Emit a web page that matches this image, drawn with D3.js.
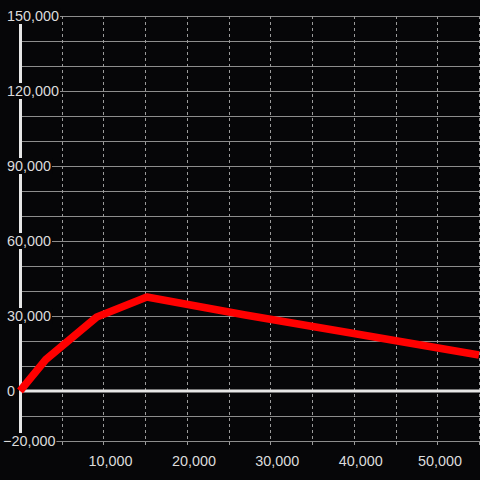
<!DOCTYPE html>
<html>
<head>
<meta charset="utf-8">
<script src="https://cdn.jsdelivr.net/npm/d3@7"></script>
<style>
  html, body { margin: 0; padding: 0; background: #060608; }
  svg { display: block; }
</style>
</head>
<body>
<div id="chart"></div>
<script>
const xValues = [0, 3100, 9200, 15200, 27000, 40000, 55000];
const yValues = [0, 12600, 29600, 37600, 30400, 23000, 14400];
const yLabelTicks = [-20000, 0, 30000, 60000, 90000, 120000, 150000];
const yGridTicks = d3.range(-20000, 150001, 10000);
const xLabelTicks = [10000, 20000, 30000, 40000, 50000];
const xGridTicks = d3.range(5000, 55001, 5000);

const width = 480, height = 480;
const fmt = d3.format(',');

const x = d3.scaleLinear().domain([0, 55000]).range([20, 479]);
const y = d3.scaleLinear().domain([-20000, 150000]).range([441, 16]);

const svg = d3.select('#chart').append('svg')
  .attr('width', width).attr('height', height);

svg.append('rect').attr('width', width).attr('height', height).attr('fill', '#060608');

// horizontal grid
svg.append('g').selectAll('line').data(yGridTicks).join('line')
  .attr('x1', x(0)).attr('x2', width)
  .attr('y1', d => Math.round(y(d)) + 0.5).attr('y2', d => Math.round(y(d)) + 0.5)
  .attr('stroke', '#8c8c8c').attr('stroke-width', 1);

// vertical dashed grid
svg.append('g').selectAll('line').data(xGridTicks).join('line')
  .attr('x1', d => Math.round(x(d)) + 0.5).attr('x2', d => Math.round(x(d)) + 0.5)
  .attr('y1', y(150000)).attr('y2', 448)
  .attr('stroke', '#9a9a9a').attr('stroke-width', 1).attr('stroke-dasharray', '3,3');

// zero line
svg.append('line')
  .attr('x1', x(0)).attr('x2', width)
  .attr('y1', y(0)).attr('y2', y(0))
  .attr('stroke', '#e6e6e6').attr('stroke-width', 3);

// y axis line
svg.append('line')
  .attr('x1', x(0) + 0.5).attr('x2', x(0) + 0.5)
  .attr('y1', y(150000)).attr('y2', y(-20000))
  .attr('stroke', '#e6e6e6').attr('stroke-width', 3);

// series
const line = d3.line().x((d, i) => x(xValues[i])).y(d => y(d));
svg.append('path').datum(yValues)
  .attr('d', line)
  .attr('fill', 'none').attr('stroke', '#ff0000')
  .attr('stroke-width', 7.5).attr('stroke-linejoin', 'round');

// y labels with background boxes
const yl = svg.append('g').selectAll('g').data(yLabelTicks).join('g');
yl.append('text')
  .attr('x', d => d < 0 ? 3 : 7)
  .attr('y', d => y(d) + 5)
  .attr('fill', '#dcdcdc')
  .attr('font-family', '"Liberation Sans", Arial, sans-serif')
  .attr('font-size', 14.4)
  .text(d => fmt(d));
yl.each(function() {
  const t = d3.select(this).select('text');
  const b = t.node().getBBox();
  d3.select(this).insert('rect', 'text')
    .attr('x', b.x - 2).attr('y', b.y + b.height / 2 - 8)
    .attr('width', b.width + 3).attr('height', 16)
    .attr('fill', '#060608');
});

// x labels
svg.append('g').selectAll('text').data(xLabelTicks).join('text')
  .attr('x', d => Math.min(x(d) + 7, width - 40))
  .attr('y', 466)
  .attr('text-anchor', 'middle')
  .attr('fill', '#dcdcdc')
  .attr('font-family', '"Liberation Sans", Arial, sans-serif')
  .attr('font-size', 14.4)
  .text(d => fmt(d));
</script>
</body>
</html>
